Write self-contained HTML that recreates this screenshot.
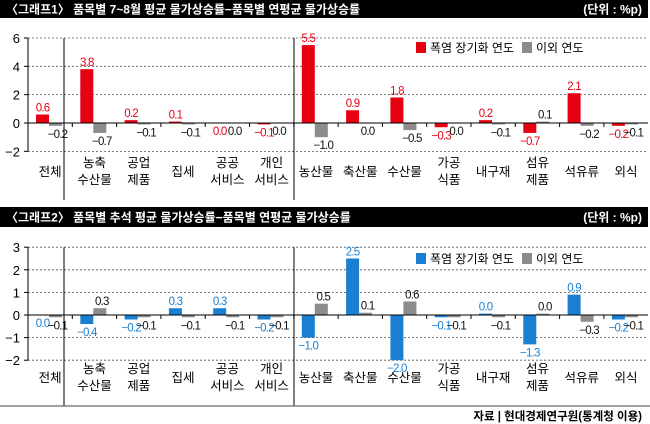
<!DOCTYPE html>
<html><head><meta charset="utf-8">
<style>
html,body{margin:0;padding:0;background:#fff;}
svg{display:block;font-family:"Liberation Sans","Noto Sans CJK KR",sans-serif;}
</style></head><body>
<svg id="s" width="650" height="424" viewBox="0 0 650 424" xmlns="http://www.w3.org/2000/svg"></svg>
<script>
const s=document.getElementById('s');
let h='';
const cats=[["전체"],["농축","수산물"],["공업","제품"],["집세"],["공공","서비스"],["개인","서비스"],["농산물"],["축산물"],["수산물"],["가공","식품"],["내구재"],["섬유","제품"],["석유류"],["외식"]];
const gw=44.3, x0=28;
function fmt(v){return (v<0?'\u2212':'')+Math.abs(v).toFixed(1);}
function chart(o){
  // title bar
  h+=`<rect x="0" y="${o.ty}" width="648" height="${o.th}" fill="#000"/>`;
  h+=`<text x="6" y="${o.ty+o.th/2+4.5}" font-size="12" font-weight="bold" fill="#fff">${o.title}</text>`;
  h+=`<text x="642" y="${o.ty+o.th/2+4.5}" font-size="12" font-weight="bold" fill="#fff" text-anchor="end">(단위 : %p)</text>`;
  const Y=v=>o.y0-v*o.s;
  // grid
  o.ticks.forEach(t=>{
    if(t!==0) h+=`<line x1="${x0}" x2="648" y1="${Y(t)}" y2="${Y(t)}" stroke="#555" stroke-width="0.8" stroke-dasharray="2,2"/>`;
    h+=`<line x1="${x0-4}" x2="${x0}" y1="${Y(t)}" y2="${Y(t)}" stroke="#000"/>`;
    h+=`<text x="${x0-8}" y="${Y(t)+5}" font-size="13" text-anchor="end">${t<0?'\u2212'+(-t):t}</text>`;
  });
  const top=Y(o.ticks[0]);
  h+=`<line x1="${x0}" x2="${x0}" y1="${top}" y2="${Y(o.ticks[o.ticks.length-1])}" stroke="#000"/>`;
  [64,294].forEach(x=>h+=`<line x1="${x}" x2="${x}" y1="${top}" y2="${o.bot}" stroke="#000"/>`);
  // bars
  for(let i=0;i<14;i++){
    const g=x0+gw*i;
    [[o.a[i],g+8,o.ca,o.la],[o.b[i],g+21,'#8c8c8c','#111']].forEach(([v,x,c,lc],k)=>{
      let bv=v; let up=v>0;
      if(o.up && o.up[k]===i){up=true; if(bv===0)bv=0.06;}
      const y1=Math.min(Y(bv),o.y0), y2=Math.max(Y(bv),o.y0);
      if(y2-y1>0.1) h+=`<rect x="${x}" y="${y1}" width="13" height="${y2-y1}" fill="${c}"/>`;
      const ly=up? y1-3 : y2+12;
      h+=`<text x="${x+6.5+(k?2:0)}" y="${ly}" font-size="11.5" fill="${lc}" text-anchor="middle" letter-spacing="-0.8">${fmt(v)}</text>`;
    });
    if(i>0) h+=`<line x1="${g}" x2="${g}" y1="${o.y0}" y2="${o.y0+4}" stroke="#000"/>`;
    const c=cats[i], cx=g+gw/2;
    if(c.length===1) h+=`<text x="${cx}" y="${o.l1}" font-size="12.5" text-anchor="middle">${c[0]}</text>`;
    else {h+=`<text x="${cx}" y="${o.l1-9}" font-size="12.5" text-anchor="middle">${c[0]}</text><text x="${cx}" y="${o.l1+8}" font-size="12.5" text-anchor="middle">${c[1]}</text>`;}
  }
  h+=`<line x1="${x0}" x2="648" y1="${o.y0}" y2="${o.y0}" stroke="#000"/>`;
  // legend
  h+=`<rect x="416" y="${o.ly-9}" width="10" height="11" fill="${o.ca}"/><text x="430" y="${o.ly+1}" font-size="12">폭염 장기화 연도</text>`;
  h+=`<rect x="522" y="${o.ly-9}" width="10" height="11" fill="#8c8c8c"/><text x="536" y="${o.ly+1}" font-size="12">이외 연도</text>`;
}
chart({ty:0,th:18,title:"〈그래프1〉 품목별 7~8월 평균 물가상승률−품목별 연평균 물가상승률",y0:123,s:14.17,ticks:[6,4,2,0,-2],bot:200,l1:176,ly:51,ca:"#e60012",la:"#e60012",
 a:[0.6,3.8,0.2,0.1,0.0,-0.1,5.5,0.9,1.8,-0.3,0.2,-0.7,2.1,-0.2],
 b:[-0.2,-0.7,-0.1,-0.1,0.0,0.0,-1.0,0.0,-0.5,0.0,-0.1,0.1,-0.2,-0.1]});
chart({ty:207,th:20,title:"〈그래프2〉 품목별 추석 평균 물가상승률−품목별 연평균 물가상승률",y0:315,s:22.6,ticks:[3,2,1,0,-1,-2],bot:406,l1:382,ly:262,ca:"#1a7fd0",la:"#1a7fd0",up:[10,11],
 a:[0.0,-0.4,-0.2,0.3,0.3,-0.2,-1.0,2.5,-2.0,-0.1,0.0,-1.3,0.9,-0.2],
 b:[-0.1,0.3,-0.1,-0.1,-0.1,-0.1,0.5,0.1,0.6,-0.1,-0.1,0.0,-0.3,-0.1]});
h+=`<line x1="0" x2="650" y1="406" y2="406" stroke="#444" stroke-width="1"/>`;
h+=`<text x="642" y="420" font-size="11.5" font-weight="bold" text-anchor="end">자료 | 현대경제연구원(통계청 이용)</text>`;
s.innerHTML=h;
</script>
</body></html>
